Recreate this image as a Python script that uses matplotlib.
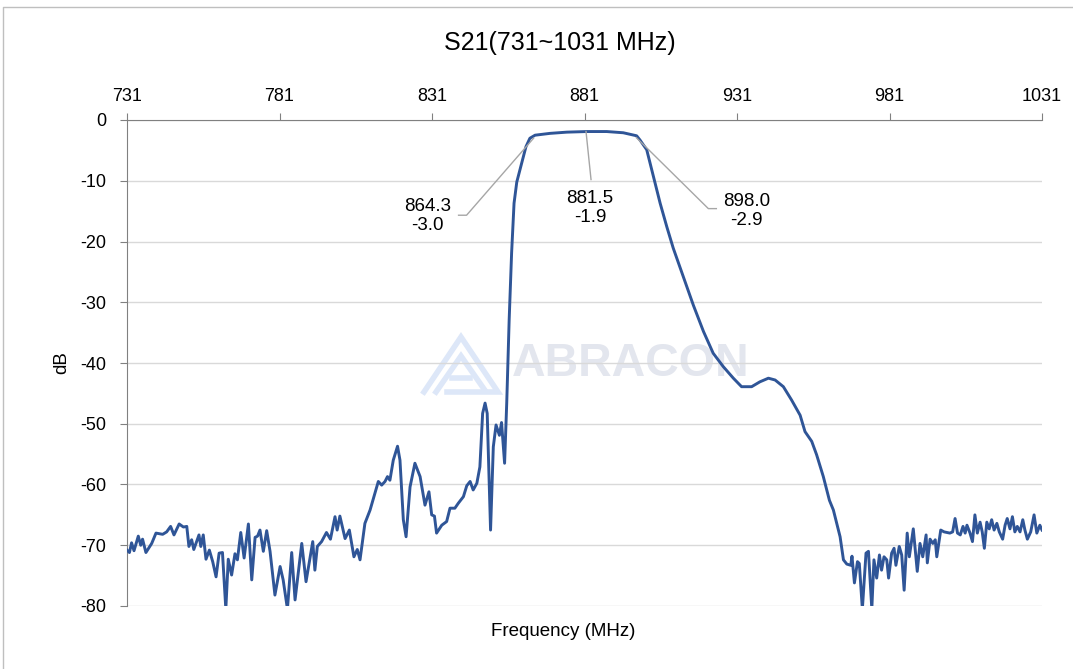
import matplotlib
matplotlib.use("Agg")
import matplotlib.pyplot as plt
from matplotlib.lines import Line2D

plt.rcParams['font.family'] = ['Liberation Sans', 'DejaVu Sans']
plt.rcParams['axes.unicode_minus'] = False

# S21 trace (MHz, dB)
freq = [731.0, 731.8, 732.5, 733.3, 734.7, 735.5, 736.1, 737.2, 739.1, 740.5,
        742.7, 744.0, 745.3, 746.4, 748.1, 749.5, 750.6, 751.3, 752.2, 752.9,
        754.6, 755.2, 756.0, 756.9, 758.0, 759.1, 760.2, 761.2, 762.3, 763.4,
        764.2, 765.3, 766.4, 767.2, 768.3, 769.4, 770.8, 771.9, 773.0, 773.8,
        774.6, 775.7, 776.8, 777.9, 779.5, 781.2, 782.2, 783.6, 785.0, 786.1,
        788.3, 789.7, 790.8, 791.9, 792.6, 793.4, 794.8, 796.4, 797.7, 799.2,
        799.9, 800.8, 802.5, 803.9, 805.4, 806.5, 807.4, 809.0, 810.7, 812.3,
        813.4, 814.5, 815.6, 816.4, 817.2, 818.3, 819.7, 820.5, 821.6, 822.5,
        823.8, 825.4, 827.1, 828.7, 830.0, 830.9, 831.8, 832.5, 834.2, 835.8,
        836.9, 838.5, 839.6, 841.3, 842.4, 843.5, 844.5, 845.7, 846.7, 847.6,
        848.4, 849.1, 850.2, 851.1, 852.0, 853.1, 853.8, 854.8, 855.5, 856.3,
        857.1, 857.9, 858.8, 860.4, 861.8, 863.1, 864.8, 869.7, 875.2, 881.7,
        888.3, 893.7, 898.1, 899.2, 901.4, 903.6, 905.8, 908.0, 910.1, 913.4,
        916.7, 920.0, 923.2, 926.5, 929.8, 932.5, 935.8, 938.5, 941.3, 943.5,
        946.2, 948.9, 951.7, 953.3, 955.5, 957.1, 959.3, 961.3, 962.6, 964.8,
        965.9, 967.0, 968.3, 968.7, 969.5, 970.5, 971.1, 972.1, 973.3, 974.1,
        975.2, 975.9, 976.8, 977.7, 978.4, 979.2, 980.1, 980.7, 981.7, 982.5,
        983.1, 984.2, 985.0, 985.8, 986.8, 987.5, 988.8, 990.1, 991.0, 991.9,
        993.0, 993.4, 994.3, 995.2, 996.0, 996.5, 997.8, 998.9, 1000.8, 1001.7,
        1002.5, 1003.3, 1004.2, 1005.1, 1005.8, 1006.4, 1007.4, 1008.2, 1009.0, 1009.8,
        1010.7, 1011.4, 1012.1, 1012.9, 1013.7, 1014.5, 1015.3, 1016.2, 1017.0, 1018.1,
        1018.9, 1019.6, 1020.5, 1021.3, 1022.1, 1022.9, 1023.8, 1024.7, 1025.4, 1026.2,
        1027.3, 1028.4, 1029.3, 1030.3, 1031.0]
s21 = [-70.8, -71.2, -69.6, -70.9, -68.5, -70.0, -69.0, -71.2, -69.7, -68.0,
       -68.2, -67.8, -66.9, -68.3, -66.5, -67.0, -66.9, -70.2, -69.1, -70.7,
       -68.3, -70.2, -68.3, -72.3, -70.8, -72.7, -75.2, -71.3, -71.2, -80.5,
       -72.3, -74.9, -71.4, -72.4, -67.9, -72.1, -66.5, -75.7, -68.7, -68.5,
       -67.5, -71.0, -67.6, -71.0, -78.2, -73.5, -75.7, -80.5, -71.2, -79.0,
       -69.7, -76.0, -72.7, -69.4, -74.1, -70.2, -69.4, -67.9, -69.0, -65.3,
       -67.5, -65.2, -68.9, -67.5, -71.9, -70.7, -72.4, -66.4, -64.2, -61.4,
       -59.5, -60.1, -59.5, -58.7, -59.3, -56.0, -53.7, -56.0, -65.8, -68.6,
       -60.4, -56.5, -58.7, -63.4, -61.2, -65.0, -65.2, -68.0, -66.7, -66.1,
       -63.9, -63.9, -63.1, -62.0, -60.2, -59.5, -60.9, -59.8, -57.1, -48.3,
       -46.6, -48.3, -67.5, -53.8, -50.2, -51.9, -49.8, -56.5, -46.6, -32.9,
       -21.9, -13.7, -10.2, -7.1, -4.4, -3.0, -2.5, -2.2, -2.0, -1.9,
       -1.9, -2.1, -2.6, -3.3, -4.9, -9.3, -13.7, -17.6, -21.1, -25.8,
       -30.5, -34.8, -38.4, -40.6, -42.5, -43.9, -43.9, -43.1, -42.5, -42.8,
       -43.9, -46.1, -48.6, -51.3, -52.9, -55.1, -58.7, -62.6, -64.2, -68.6,
       -72.4, -73.1, -73.3, -71.8, -76.2, -72.7, -73.0, -80.5, -71.3, -71.0,
       -80.5, -72.4, -75.4, -71.6, -74.1, -71.9, -72.4, -75.4, -71.3, -70.5,
       -73.3, -70.2, -71.6, -77.4, -68.0, -71.9, -67.3, -74.3, -69.7, -71.9,
       -68.3, -72.9, -69.0, -69.7, -69.1, -71.9, -67.5, -67.8, -68.0, -67.8,
       -65.6, -68.0, -68.3, -66.9, -68.0, -66.7, -68.0, -69.4, -65.0, -68.0,
       -66.2, -67.8, -70.5, -66.2, -67.3, -65.8, -67.5, -66.4, -67.8, -69.0,
       -66.7, -65.6, -67.3, -65.3, -67.8, -66.9, -67.8, -65.8, -67.5, -69.0,
       -67.8, -65.0, -68.0, -66.7, -67.5]

# markers: (freq, dB)
mark_f = [864.3, 881.5, 898.0]
mark_db = [-3.0, -1.9, -2.9]

xticks = [731, 781, 831, 881, 931, 981, 1031]
yticks = [0, -10, -20, -30, -40, -50, -60, -70, -80]

W, H = 1073, 669
fig = plt.figure(figsize=(W / 100, H / 100), dpi=100)
ax = fig.add_axes([127 / W, 1 - 606 / H, (1042 - 127) / W, (606 - 120) / H])

ax.plot(freq, s21, color='#2f5597', lw=2.1, zorder=3)
ax.set_xlim(731, 1031)
ax.set_ylim(-80, 0)
ax.set_xticks(xticks)
ax.set_yticks(yticks)
ax.xaxis.tick_top()
ax.tick_params(axis='x', direction='out', length=5, width=0.8, color='#808080',
               labelsize=13, pad=6)
ax.tick_params(axis='y', direction='out', length=5, width=0.8, color='#808080',
               labelsize=13, pad=10)
ax.yaxis.grid(True, color='#d9d9d9', lw=1)
ax.set_axisbelow(True)
for side in ['bottom', 'right']:
    ax.spines[side].set_visible(False)
for side in ['top', 'left']:
    ax.spines[side].set_color('#808080')
    ax.spines[side].set_linewidth(0.8)

# watermark
ax.text(512 / W, 1 - 364 / H, 'ABRACON', transform=fig.transFigure, fontsize=33.5,
        fontweight='bold', color='#e3e6ee', ha='left', va='center', zorder=0.1)
logo_col = '#dde7f8'
for pts in [[(424, 392), (461, 337), (498, 392), (447, 392)],
            [(436, 392), (461, 356), (484, 389)],
            [(452, 378), (470, 378)]]:
    xs = [p[0] / W for p in pts]
    ys = [1 - p[1] / H for p in pts]
    ax.add_line(Line2D(xs, ys, transform=fig.transFigure, color=logo_col, lw=4,
                       solid_joinstyle='miter', zorder=0.1))

# marker annotations (leader offsets in pixels, y downwards)
fig.canvas.draw()
leaders = [[(0, 0), (-67, 77), (-75, 77)],
           [(0, 0), (5, 48)],
           [(0, 0), (72, 71), (80, 71)]]
label_off = [(-106, 78), (4, 76), (110, 73)]
for f, v, path, lo in zip(mark_f, mark_db, leaders, label_off):
    px, py = ax.transData.transform((f, v))
    xs = [(px + dx) / W for dx, dy in path]
    ys = [(py - dy) / H for dx, dy in path]
    fig.add_artist(Line2D(xs, ys, color='#a6a6a6', lw=1, zorder=4))
    fig.text((px + lo[0]) / W, (py - lo[1]) / H, f'{f:.1f}\n{v:.1f}',
             ha='center', va='center', fontsize=13.5, linespacing=1.15)

fig.text(560 / W, 1 - 43 / H, 'S21(731~1031 MHz)', ha='center', va='center', fontsize=18)
fig.text(563 / W, 1 - 632 / H, 'Frequency (MHz)', ha='center', va='center', fontsize=13.5)
fig.text(62 / W, 1 - 363 / H, 'dB', ha='center', va='center', fontsize=13.5, rotation=90)

# chart border
fig.add_artist(Line2D([3 / W, 3 / W, 1.0], [0.0, 1 - 7 / H, 1 - 7 / H],
                      color='#bfbfbf', lw=1))

fig.savefig('out.png', dpi=100)
